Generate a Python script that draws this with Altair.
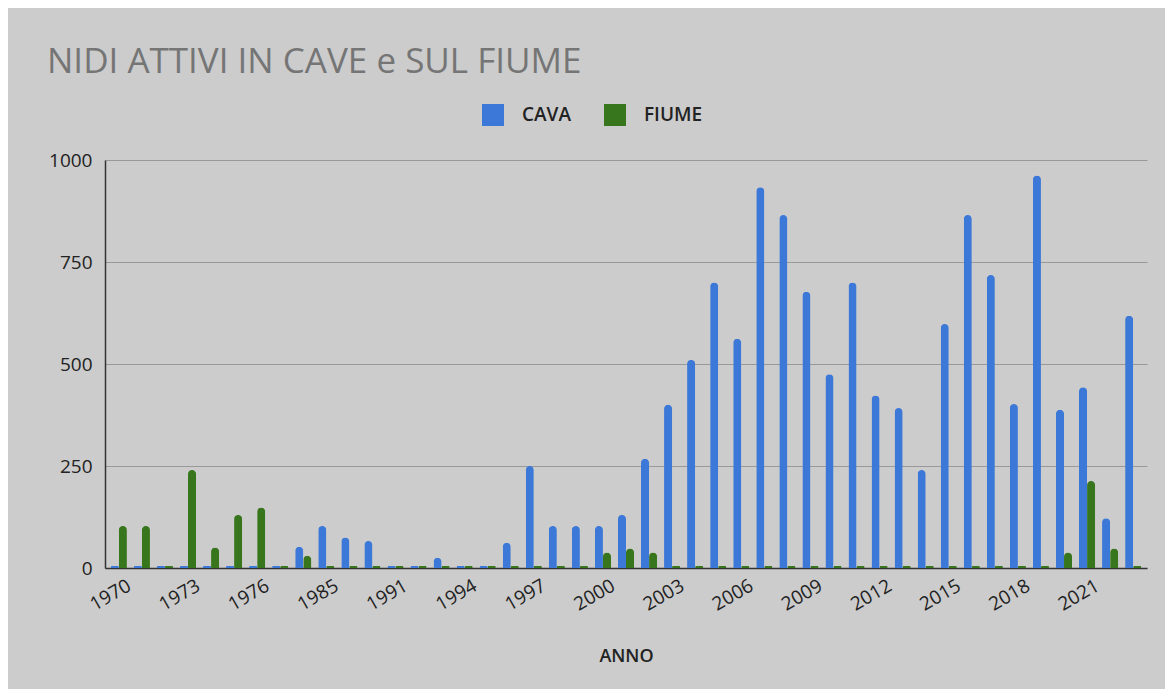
import altair as alt
import pandas as pd

years = ["1970", "1971", "1972", "1973", "1974", "1975", "1976", "1980", "1983",
         "1985", "1987", "1989", "1991", "1992", "1993", "1994", "1995", "1996",
         "1997", "1998", "1999", "2000", "2001", "2002", "2003", "2004", "2005",
         "2006", "2007", "2008", "2009", "2010", "2011", "2012", "2013", "2014",
         "2015", "2016", "2017", "2018", "2019", "2020", "2021", "2022", "2023"]
cava = [0, 0, 0, 0, 0, 0, 0, 0, 52,
        103, 75, 66, 0, 0, 25, 0, 0, 62,
        250, 103, 103, 103, 130, 268, 400, 510, 700,
        562, 933, 865, 677, 475, 700, 423, 392, 240,
        598, 865, 718, 402, 962, 388, 443, 122, 618]
fiume = [103, 103, 0, 240, 50, 130, 148, 0, 30,
         0, 0, 0, 0, 0, 0, 0, 0, 0,
         0, 0, 0, 38, 48, 38, 0, 0, 0,
         0, 0, 0, 0, 0, 0, 0, 0, 0,
         0, 0, 0, 0, 0, 38, 213, 48, 0]
series = ["CAVA", "FIUME"]
colors = ["#3c78d8", "#38761d"]
shown_labels = ["1970", "1973", "1976", "1985", "1991", "1994", "1997", "2000",
                "2003", "2006", "2009", "2012", "2015", "2018", "2021"]

rows = []
for i, y in enumerate(years):
    rows.append({"ANNO": y, "serie": series[0], "valore": cava[i]})
    rows.append({"ANNO": y, "serie": series[1], "valore": fiume[i]})
df = pd.DataFrame(rows)

FONT = "Open Sans"

chart = alt.Chart(df).transform_calculate(
    shown="max(datum.valore, 5)"
).mark_bar(
    cornerRadiusTopLeft=4, cornerRadiusTopRight=4
).encode(
    x=alt.X("ANNO:N", sort=years,
            scale=alt.Scale(paddingInner=0.3, paddingOuter=0.25),
            axis=alt.Axis(title="ANNO", values=shown_labels, labelAngle=-30,
                          labelFontSize=19, labelFont=FONT, labelColor="#222222",
                          labelPadding=8, labelOffset=6, ticks=False,
                          domainColor="#333333", domainWidth=1.5,
                          titleFont=FONT, titleFontSize=18,
                          titleFontWeight=600, titleColor="#222222",
                          titlePadding=33)),
    xOffset=alt.XOffset("serie:N", sort=series),
    y=alt.Y("shown:Q", scale=alt.Scale(domain=[0, 1000]),
            axis=alt.Axis(title=None, values=[0, 250, 500, 750, 1000], format="d",
                          labelFontSize=19, labelFont=FONT, labelColor="#222222",
                          labelPadding=13, ticks=False, domainColor="#333333",
                          domainWidth=1.5, gridColor="#999999", gridWidth=1.2)),
    color=alt.Color("serie:N", sort=series,
                    scale=alt.Scale(domain=series, range=colors),
                    legend=alt.Legend(title=None, orient="none", legendX=377,
                                      legendY=-56, direction="horizontal",
                                      symbolType="square", symbolSize=484,
                                      symbolStrokeWidth=0, labelFontSize=19,
                                      labelFont=FONT, labelFontWeight=600,
                                      labelColor="#222222", labelOffset=18,
                                      columnPadding=32)),
).properties(
    width=1042, height=408,
    title=alt.TitleParams("NIDI ATTIVI IN CAVE e SUL FIUME", anchor="start",
                          frame="group", font=FONT, fontSize=35,
                          fontWeight="normal", color="#757575", dx=-58,
                          offset=24),
    autosize=alt.AutoSizeParams(type="none"),
    padding={"left": 97, "top": 152, "right": 18, "bottom": 121},
    background="#cccccc",
).configure_view(stroke=None)

chart.save("out.html", embed_options={"renderer": "svg", "actions": False})
